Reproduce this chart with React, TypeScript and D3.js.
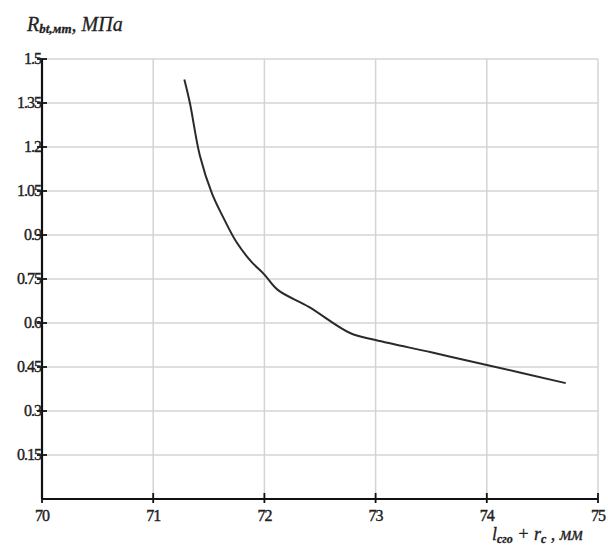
import React, { useEffect, useRef } from 'react';
import * as d3 from 'd3';

// values
const xValues = [71.28, 71.33, 71.42, 71.53, 71.63, 71.75, 71.88, 72.0, 72.12, 72.4, 72.77, 73.0, 73.5, 74.0, 74.71];
const yValues = [1.43, 1.35, 1.17, 1.04, 0.96, 0.875, 0.81, 0.765, 0.713, 0.655, 0.566, 0.542, 0.5, 0.457, 0.395];
const xTicks = [70, 71, 72, 73, 74, 75];
const yTicks = [0.15, 0.3, 0.45, 0.6, 0.75, 0.9, 1.05, 1.2, 1.35, 1.5];

const width = 608;
const height = 548;

export default function App() {
  const ref = useRef<SVGSVGElement>(null);

  useEffect(() => {
    const svg = d3.select(ref.current);
    svg.selectAll('*').remove();

    const x = d3.scaleLinear().domain([70, 75]).range([42, 598]);
    const y = d3.scaleLinear().domain([0, 1.5]).range([499, 59]);
    const font = '"Liberation Serif", "DejaVu Serif", serif';

    // grid
    svg.append('g')
      .selectAll('line')
      .data(xTicks.slice(1))
      .enter()
      .append('line')
      .attr('x1', d => x(d)).attr('x2', d => x(d))
      .attr('y1', y(1.5)).attr('y2', y(0))
      .attr('stroke', '#d4d4d4').attr('stroke-width', 1.5);

    svg.append('g')
      .selectAll('line')
      .data(yTicks)
      .enter()
      .append('line')
      .attr('x1', x(70)).attr('x2', x(75))
      .attr('y1', d => y(d)).attr('y2', d => y(d))
      .attr('stroke', '#d4d4d4').attr('stroke-width', 1.5);

    // axes
    svg.append('line')
      .attr('x1', x(70)).attr('x2', x(75))
      .attr('y1', y(0)).attr('y2', y(0))
      .attr('stroke', '#111').attr('stroke-width', 2.2);
    svg.append('line')
      .attr('x1', x(70)).attr('x2', x(70))
      .attr('y1', y(1.5)).attr('y2', y(0))
      .attr('stroke', '#111').attr('stroke-width', 2.2);

    // x ticks
    const xt = svg.append('g');
    xt.selectAll('line')
      .data(xTicks)
      .enter()
      .append('line')
      .attr('x1', d => x(d)).attr('x2', d => x(d))
      .attr('y1', y(0) - 6).attr('y2', y(0) + 4)
      .attr('stroke', '#111').attr('stroke-width', 1.8);
    xt.selectAll('text')
      .data(xTicks)
      .enter()
      .append('text')
      .attr('x', d => x(d))
      .attr('y', 521)
      .attr('text-anchor', 'middle')
      .attr('font-family', font)
      .attr('font-size', 16)
      .attr('fill', '#222')
      .attr('stroke', '#222').attr('stroke-width', 0.4)
      .attr('letter-spacing', -1)
      .text(d => String(d));

    // y ticks
    const yt = svg.append('g');
    yt.selectAll('line')
      .data(yTicks)
      .enter()
      .append('line')
      .attr('x1', x(70) - 5).attr('x2', x(70) + 5)
      .attr('y1', d => y(d)).attr('y2', d => y(d))
      .attr('stroke', '#111').attr('stroke-width', 1.8);
    yt.selectAll('text')
      .data(yTicks)
      .enter()
      .append('text')
      .attr('x', x(70) - 1)
      .attr('y', d => y(d) + 5)
      .attr('text-anchor', 'end')
      .attr('font-family', font)
      .attr('font-size', 16)
      .attr('fill', '#222')
      .attr('stroke', '#222').attr('stroke-width', 0.4)
      .attr('letter-spacing', -1)
      .text(d => String(d));

    // curve
    const pts = xValues.map((v, i) => [v, yValues[i]] as [number, number]);
    const line = d3.line<[number, number]>()
      .x(d => x(d[0]))
      .y(d => y(d[1]))
      .curve(d3.curveCatmullRom.alpha(0.5));
    svg.append('path')
      .datum(pts)
      .attr('d', line)
      .attr('fill', 'none')
      .attr('stroke', '#2a2a2a')
      .attr('stroke-width', 2)
      .attr('stroke-linejoin', 'round');

    // axis titles
    const yl = svg.append('text')
      .attr('x', 27).attr('y', 31)
      .attr('font-family', font)
      .attr('font-style', 'italic')
      .attr('font-size', 20)
      .attr('fill', '#222')
      .attr('stroke', '#222').attr('stroke-width', 0.3);
    yl.append('tspan').text('R');
    yl.append('tspan').attr('font-size', 13).attr('font-weight', 'bold').attr('dy', 2).text('bt,мт');
    yl.append('tspan').attr('dy', -2).text(', МПа');

    const xl = svg.append('text')
      .attr('x', 492).attr('y', 540)
      .attr('font-family', font)
      .attr('font-style', 'italic')
      .attr('font-size', 18)
      .attr('fill', '#222')
      .attr('stroke', '#222').attr('stroke-width', 0.3);
    xl.append('tspan').text('l');
    xl.append('tspan').attr('font-size', 12).attr('font-weight', 'bold').attr('dy', 3).text('сго');
    xl.append('tspan').attr('dy', -3).text(' + r');
    xl.append('tspan').attr('font-size', 12).attr('font-weight', 'bold').attr('dy', 3).text('c');
    xl.append('tspan').attr('dy', -3).text('  , мм');
  }, []);

  return (
    <svg
      ref={ref}
      width={width}
      height={height}
      style={{ position: 'absolute', left: 0, top: 0, background: '#fff' }}
    />
  );
}
